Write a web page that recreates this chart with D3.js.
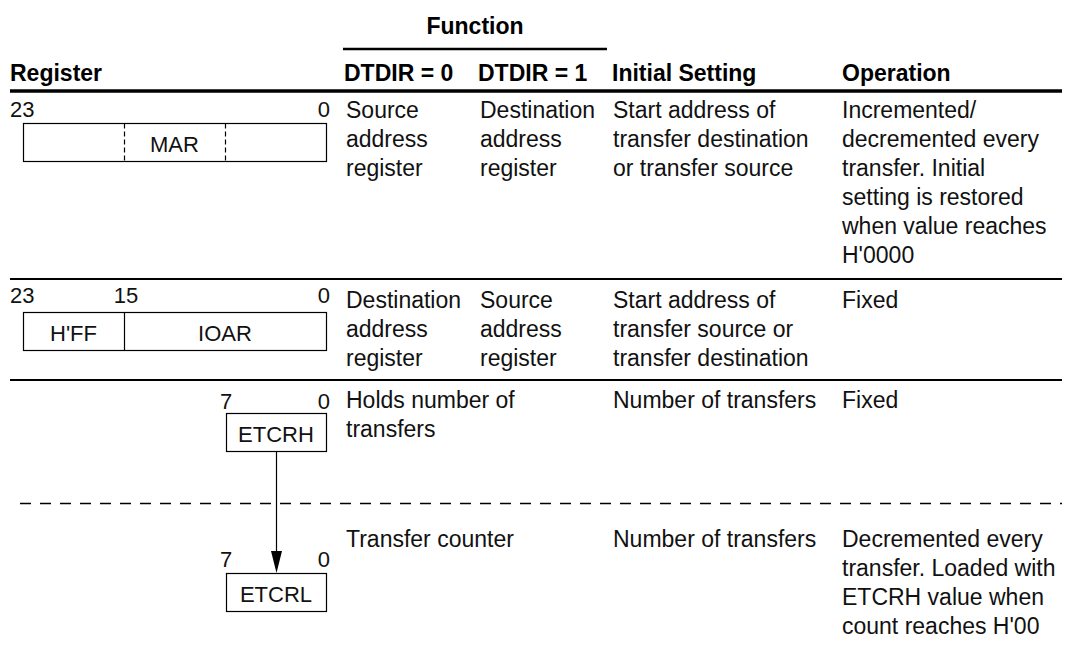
<!DOCTYPE html>
<html><head><meta charset="utf-8">
<script src="https://cdn.jsdelivr.net/npm/d3@7"></script>
<style>
html,body{margin:0;padding:0;background:#fff;}
svg{display:block;font-family:"Liberation Sans",Arial,Helvetica,sans-serif;}
</style>
</head><body>
<svg id="c" width="1066" height="653"></svg>
<script>
// ---------- data ----------
const groupHeader = "Function";
const columnKeys = ["reg", "dtdir0", "dtdir1", "init", "op"];
const headers = ["Register", "DTDIR = 0", "DTDIR = 1", "Initial Setting", "Operation"];

const textDtdir0 = [
  ["Source", "address", "register"],
  ["Destination", "address", "register"],
  ["Holds number of", "transfers"],
  ["Transfer counter"]
];
const textDtdir1 = [
  ["Destination", "address", "register"],
  ["Source", "address", "register"],
  [],
  []
];
const textInit = [
  ["Start address of", "transfer destination", "or transfer source"],
  ["Start address of", "transfer source or", "transfer destination"],
  ["Number of transfers"],
  ["Number of transfers"]
];
const textOp = [
  ["Incremented/", "decremented every", "transfer. Initial", "setting is restored", "when value reaches", "H'0000"],
  ["Fixed"],
  ["Fixed"],
  ["Decremented every", "transfer. Loaded with", "ETCRH value when", "count reaches H'00"]
];

// registers: width in bits, bit labels, field boundaries and field names
const regWidths = [24, 24, 8, 8];
const regBitLabels = [[23, 0], [23, 15, 0], [7, 0], [7, 0]];
const regFieldNames = [["MAR"], ["H'FF", "IOAR"], ["ETCRH"], ["ETCRL"]];
const regFieldBounds = [[[24, 0]], [[24, 16], [16, 0]], [[8, 0]], [[8, 0]]];
const regDashedDividers = [[16, 8], [], [], []];

// ---------- layout ----------
const svg = d3.select("#c");
const colX = d3.scaleOrdinal().domain(columnKeys).range([10, 346, 480, 613, 842]);
const hdrX = d3.scaleOrdinal().domain(columnKeys).range([10, 344, 478, 612, 842]);
const tableLeft = 10, tableRight = 1062;
const rowFirstBaseline = [118, 308, 408, 547];
const lineStep = d3.scaleLinear().domain([0, 1]).range([0, 29]);
const rowSeparators = [279, 380];
const dashedY = 503.5;
const bodyFont = 23, smallFont = 22;

// bit scales for register drawings
const bit24 = d3.scaleLinear().domain([24, 0]).range([23, 326]);
const bit8 = d3.scaleLinear().domain([8, 0]).range([226, 326]);
const regScale = [bit24, bit24, bit8, bit8];
const regLabelBaseline = [117, 303, 409, 567];
const regBoxTop = [123, 312, 413, 573];
const boxH = 38;

// ---------- header ----------
const fnLine = [343, 607];
svg.append("text").attr("x", (fnLine[0] + fnLine[1]) / 2).attr("y", 34)
  .attr("text-anchor", "middle").attr("font-weight", "bold").attr("font-size", bodyFont)
  .text(groupHeader);
svg.append("line").attr("x1", fnLine[0]).attr("x2", fnLine[1]).attr("y1", 49).attr("y2", 49)
  .attr("stroke", "#000").attr("stroke-width", 2.5);
svg.selectAll("text.hdr").data(headers).join("text").attr("class", "hdr")
  .attr("x", (d, i) => hdrX(columnKeys[i])).attr("y", 81)
  .attr("font-weight", "bold").attr("font-size", bodyFont).text(d => d);
svg.append("line").attr("x1", tableLeft).attr("x2", tableRight).attr("y1", 91).attr("y2", 91)
  .attr("stroke", "#000").attr("stroke-width", 3.5);

// ---------- separators ----------
svg.selectAll("line.sep").data(rowSeparators).join("line").attr("class", "sep")
  .attr("x1", tableLeft).attr("x2", tableRight).attr("y1", d => d).attr("y2", d => d)
  .attr("stroke", "#000").attr("stroke-width", 1.8);
svg.append("line").attr("x1", 20).attr("x2", tableRight).attr("y1", dashedY).attr("y2", dashedY)
  .attr("stroke", "#000").attr("stroke-width", 1.3).attr("stroke-dasharray", "11,9");

// ---------- body text ----------
function drawCol(arr, key) {
  arr.forEach((lines, r) => {
    svg.selectAll(null).data(lines).join("text")
      .attr("x", colX(key)).attr("y", (d, i) => rowFirstBaseline[r] + lineStep(i))
      .attr("font-size", bodyFont).attr("fill", "#111").text(d => d);
  });
}
drawCol(textDtdir0, "dtdir0");
drawCol(textDtdir1, "dtdir1");
drawCol(textInit, "init");
drawCol(textOp, "op");

// ---------- registers ----------
regWidths.forEach((w, r) => {
  const sx = regScale[r];
  const g = svg.append("g");
  const top = regBoxTop[r] + 0.5;
  // bit labels
  g.selectAll("text.bit").data(regBitLabels[r]).join("text").attr("class", "bit")
    .attr("x", d => d === w - 1 ? (w === 24 ? 10 : sx(w) - 6) : d === 0 ? sx(0) + 4 : sx(d + 1) + 2)
    .attr("text-anchor", d => d === w - 1 ? "start" : d === 0 ? "end" : "middle")
    .attr("y", regLabelBaseline[r]).attr("font-size", smallFont).attr("fill", "#111").text(d => d);
  // outer box
  g.append("rect").attr("x", sx(w) + 0.5).attr("y", top).attr("width", sx(0) - sx(w)).attr("height", boxH)
    .attr("fill", "none").attr("stroke", "#000").attr("stroke-width", 1.2);
  // solid field dividers
  regFieldBounds[r].slice(1).forEach(b => {
    g.append("line").attr("x1", sx(b[0]) + 0.5).attr("x2", sx(b[0]) + 0.5).attr("y1", top).attr("y2", top + boxH)
      .attr("stroke", "#000").attr("stroke-width", 1.2);
  });
  // dashed dividers
  g.selectAll("line.dd").data(regDashedDividers[r]).join("line").attr("class", "dd")
    .attr("x1", d => sx(d) + 0.5).attr("x2", d => sx(d) + 0.5).attr("y1", top).attr("y2", top + boxH)
    .attr("stroke", "#000").attr("stroke-width", 1.2).attr("stroke-dasharray", "5,3");
  // field names
  g.selectAll("text.fld").data(regFieldBounds[r]).join("text").attr("class", "fld")
    .attr("x", (b) => (sx(b[0]) + sx(b[1])) / 2).attr("y", regBoxTop[r] + 29)
    .attr("text-anchor", "middle").attr("font-size", smallFont).attr("fill", "#111")
    .text((b, i) => regFieldNames[r][i]);
});

// ---------- arrow ETCRH -> ETCRL ----------
const ax = bit8(4) + 0.5;
const y0 = regBoxTop[2] + boxH, y1 = regBoxTop[3];
svg.append("line").attr("x1", ax).attr("x2", ax).attr("y1", y0).attr("y2", y1 - 20)
  .attr("stroke", "#000").attr("stroke-width", 1.2);
svg.append("path").attr("d", d3.line()([[ax - 5.5, y1 - 22], [ax + 5.5, y1 - 22], [ax, y1]]) + "Z")
  .attr("fill", "#000");
</script>
</body></html>
